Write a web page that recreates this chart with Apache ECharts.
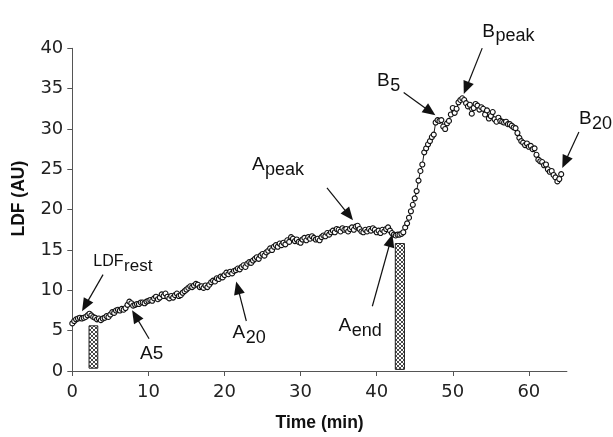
<!DOCTYPE html>
<html><head><meta charset="utf-8">
<script src="https://cdn.jsdelivr.net/npm/echarts@6/dist/echarts.min.js"></script>
<style>html,body{margin:0;padding:0;background:#fff}#c{width:613px;height:437px}</style>
</head><body><div id="c"></div>
<script>
// LDF recording, one reading every 15 s (0.25 min), starting at t = 0 min
const sampleStepMin = 0.25;
const ldfValues = [
  5.9, 6.2, 6.4, 6.5, 6.6, 6.5, 6.6, 6.7, 6.9, 7.1, 6.9, 6.7, 6.6, 6.4, 6.5, 6.3, 6.5, 6.6, 6.8, 6.7,
  7.0, 7.3, 7.2, 7.5, 7.6, 7.5, 7.7, 7.6, 7.8, 8.2, 8.6, 8.4, 8.1, 8.2, 8.3, 8.3, 8.5, 8.5, 8.4, 8.6,
  8.7, 8.8, 8.7, 9.0, 9.2, 8.9, 9.1, 9.5, 9.3, 9.6, 9.2, 9.0, 9.3, 9.1, 9.4, 9.6, 9.3, 9.4, 9.7, 9.9,
  10.1, 10.3, 10.5, 10.4, 10.6, 10.8, 10.7, 10.4, 10.5, 10.3, 10.6, 10.4, 10.7, 11.0, 11.2, 11.1, 11.5, 11.4, 11.7, 11.6,
  11.9, 12.2, 12.0, 12.3, 12.1, 12.4, 12.5, 12.7, 12.6, 12.9, 13.1, 12.9, 13.3, 13.5, 13.4, 13.7, 13.9, 14.1, 13.9, 14.3,
  14.5, 14.3, 14.7, 14.9, 15.2, 15.0, 15.4, 15.6, 15.4, 15.8, 15.6, 15.9, 15.7, 16.2, 16.0, 16.6, 16.4, 16.1, 16.3, 16.0,
  15.9, 16.3, 16.5, 16.2, 16.6, 16.4, 16.7, 16.5, 16.3, 16.4, 16.2, 16.6, 16.8, 16.7, 17.1, 16.9, 17.2, 17.4, 17.2, 17.6,
  17.5, 17.3, 17.7, 17.5, 17.6, 17.3, 17.6, 17.8, 17.5, 17.9, 18.0, 17.6, 17.3, 17.2, 17.5, 17.3, 17.6, 17.4, 17.7, 17.5,
  17.2, 17.4, 17.1, 17.5, 17.3, 17.6, 17.8, 17.4, 17.1, 16.9, 16.8, 16.9, 16.9, 17.0, 17.2, 17.8, 18.3, 19.0, 19.8, 20.6,
  21.4, 22.3, 23.6, 24.8, 25.6, 27.1, 27.6, 28.1, 28.5, 29.0, 29.3, 30.8, 31.1, 31.0, 31.1, 30.3, 30.0, 30.7, 31.0, 31.8,
  32.6, 32.0, 32.5, 33.3, 33.6, 33.8, 33.6, 33.2, 32.8, 33.0, 31.9, 32.6, 33.1, 32.9, 32.4, 32.7, 32.5, 31.8, 32.3, 31.3,
  31.6, 32.1, 31.2, 30.9, 31.4, 31.0, 30.9, 30.8, 30.9, 30.6, 30.6, 30.4, 30.2, 30.1, 29.5, 28.9, 28.5, 28.3, 28.0, 28.2,
  27.8, 27.9, 27.5, 27.6, 26.8, 26.2, 26.0, 25.9, 25.5, 25.6, 25.0, 24.7, 24.8, 24.3, 24.0, 23.5, 23.8, 24.4
];

// stimulus periods (hatched bars)
const stimStart = [2.2, 42.45];
const stimEnd = [3.35, 43.65];
const stimBase = [0.35, 0.2];
const stimTop = [5.6, 15.8];

// axis ticks
const xTickValues = [0, 10, 20, 30, 40, 50, 60];
const yTickValues = [0, 5, 10, 15, 20, 25, 30, 35, 40];

// annotation labels (text anchor / arrow tail / arrow tip in data units)
const noteMain = ['LDF', 'A5', 'A', 'A', 'A', 'B', 'B', 'B'];
const noteSub = ['rest', '', '20', 'end', 'peak', '5', 'peak', '20'];
const noteAt = [[2.76, 12.84], [8.91, 1.31], [21.05, 3.88], [35.0, 4.77], [23.6, 24.74], [40.05, 35.13], [53.87, 41.25], [66.58, 30.44]];
const noteTail = [[4.04, 11.94], [10.09, 4.0], [22.87, 6.2], [39.43, 8.03], [33.47, 22.7], [43.55, 34.52], [53.87, 40.02], [66.58, 29.63]];
const noteTip = [[1.28, 7.42], [7.86, 7.54], [21.54, 11.09], [42.07, 16.96], [36.89, 18.7], [47.72, 31.69], [51.45, 34.32], [64.39, 25.15]];

const seriesData = ldfValues.map((v, i) => [i * sampleStepMin, v]);
const stimData = stimStart.map((s, i) => [s, stimEnd[i], stimBase[i], stimTop[i]]);

// crosshatch pattern
const pc = document.createElement('canvas');
pc.width = 4; pc.height = 4;
const pctx = pc.getContext('2d');
pctx.fillStyle = '#fff'; pctx.fillRect(0, 0, 4, 4);
pctx.strokeStyle = '#333'; pctx.lineWidth = 0.9;
pctx.beginPath();
pctx.moveTo(0, 0); pctx.lineTo(4, 4);
pctx.moveTo(4, 0); pctx.lineTo(0, 4);
pctx.stroke();
const hatch = { image: pc, repeat: 'repeat' };

const chart = echarts.init(document.getElementById('c'), null, { renderer: 'canvas' });
const axisColor = '#555';
const option = {
  animation: false,
  backgroundColor: '#fff',
  grid: { left: 72.3, right: 46.1, top: 48.3, bottom: 61.3 },
  xAxis: {
    type: 'value', min: 0, max: 65, interval: 10,
    name: 'Time (min)', nameLocation: 'middle', nameGap: 43,
    nameTextStyle: { fontFamily: 'Liberation Sans', fontWeight: 'bold', fontSize: 17.5, color: '#111' },
    axisLine: { show: true, lineStyle: { color: axisColor, width: 1 } },
    axisTick: { show: true, length: 5, lineStyle: { color: axisColor }, customValues: xTickValues },
    axisLabel: { fontFamily: 'DejaVu Sans', fontSize: 18, color: '#222', margin: 12, customValues: xTickValues },
    splitLine: { show: false }
  },
  yAxis: {
    type: 'value', min: 0, max: 40, interval: 5,
    name: 'LDF (AU)', nameLocation: 'middle', nameGap: 44, nameRotate: 90,
    nameTextStyle: { fontFamily: 'Liberation Sans', fontWeight: 'bold', fontSize: 17.5, color: '#111', padding: [0, 0, 0, 22] },
    axisLine: { show: true, lineStyle: { color: axisColor, width: 1 } },
    axisTick: { show: true, length: 5, lineStyle: { color: axisColor }, customValues: yTickValues },
    axisLabel: { fontFamily: 'DejaVu Sans', fontSize: 18, color: '#222', margin: 9, customValues: yTickValues },
    splitLine: { show: false }
  },
  series: [
    {
      type: 'custom', z: 1,
      renderItem: function (params, api) {
        const p0 = api.coord([api.value(0), api.value(3)]);
        const p1 = api.coord([api.value(1), api.value(2)]);
        return {
          type: 'rect',
          shape: { x: p0[0], y: p0[1], width: p1[0] - p0[0], height: p1[1] - p0[1] },
          style: { fill: hatch, stroke: '#222', lineWidth: 1 }
        };
      },
      data: stimData
    },
    {
      type: 'line', z: 3,
      data: seriesData,
      showAllSymbol: true,
      symbol: 'circle', symbolSize: 5,
      lineStyle: { color: '#1a1a1a', width: 1 },
      itemStyle: { color: '#fff', borderColor: '#111', borderWidth: 1.1 }
    }
  ]
};
chart.setOption(option);

// annotations
const mctx = document.createElement('canvas').getContext('2d');
function textWidth(t, size) { mctx.font = size + 'px "Liberation Sans"'; return mctx.measureText(t).width; }
const graphics = [];
noteMain.forEach((m, i) => {
  const isLdf = m === 'LDF';
  const mainSize = isLdf ? 16 : 19;
  const subSize = isLdf ? 17 : 18;
  const subDy = isLdf ? 4.3 : 4.5;
  const a = chart.convertToPixel({ gridIndex: 0 }, noteAt[i]);
  graphics.push({
    type: 'text', x: a[0], y: a[1] - 0.3465 * mainSize, z: 10,
    style: { text: m, fontFamily: 'Liberation Sans', fontSize: mainSize, fill: '#111', align: 'left', verticalAlign: 'middle' }
  });
  if (noteSub[i]) {
    graphics.push({
      type: 'text', x: a[0] + textWidth(m, mainSize) + 0.5, y: a[1] + subDy - 0.3465 * subSize, z: 10,
      style: { text: noteSub[i], fontFamily: 'Liberation Sans', fontSize: subSize, fill: '#111', align: 'left', verticalAlign: 'middle' }
    });
  }
  const t0 = chart.convertToPixel({ gridIndex: 0 }, noteTail[i]);
  const t1 = chart.convertToPixel({ gridIndex: 0 }, noteTip[i]);
  const dx = t1[0] - t0[0], dy = t1[1] - t0[1];
  const len = Math.sqrt(dx * dx + dy * dy);
  const ux = dx / len, uy = dy / len;
  const headLen = 13, headHalf = 5.5;
  const bx = t1[0] - ux * headLen, by = t1[1] - uy * headLen;
  graphics.push({
    type: 'line', z: 10,
    shape: { x1: t0[0], y1: t0[1], x2: bx + ux * 2, y2: by + uy * 2 },
    style: { stroke: '#111', lineWidth: 1.2 }
  });
  graphics.push({
    type: 'polygon', z: 10,
    shape: { points: [[t1[0], t1[1]], [bx - uy * headHalf, by + ux * headHalf], [bx + uy * headHalf, by - ux * headHalf]] },
    style: { fill: '#111' }
  });
});
chart.setOption({ graphic: graphics });
</script>
</body></html>
